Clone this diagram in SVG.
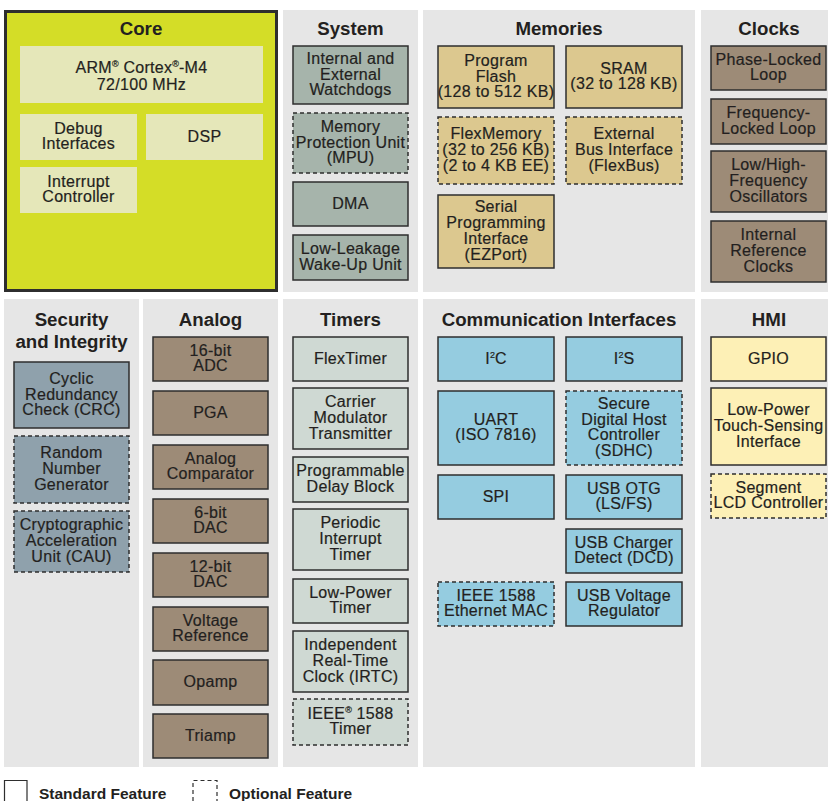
<svg xmlns="http://www.w3.org/2000/svg" width="828" height="801" viewBox="0 0 828 801">
<style>
text{font-family:"Liberation Sans",Arial,sans-serif;fill:#231f20;text-anchor:middle}
.t{font-size:16px;letter-spacing:0.3px;stroke:#231f20;stroke-width:0.2}
.h{font-size:18.7px;font-weight:bold}
.lg{font-size:15.5px;font-weight:bold;text-anchor:start}
.sup{font-size:9px;letter-spacing:0}
.panel{fill:#e6e6e6}
.b{stroke:#2e2e2e;stroke-width:1.5}
.d{stroke-dasharray:4 3}
.sys{fill:#a6b4ab}
.mem{fill:#dcc88f}
.brn{fill:#9d8b77}
.sec{fill:#8fa1ac}
.tim{fill:#cfd9d3}
.com{fill:#95cce0}
.hmi{fill:#fdf0b6}
.ci{fill:#e5e7b9}
</style>
<rect width="828" height="801" fill="#ffffff"/>
<g id="panels">
<rect class="panel" x="283" y="10" width="135" height="282"/>
<rect class="panel" x="423" y="10" width="272" height="282"/>
<rect class="panel" x="701" y="10" width="127" height="282"/>
<rect class="panel" x="4" y="299" width="135" height="468"/>
<rect class="panel" x="143" y="299" width="135" height="468"/>
<rect class="panel" x="283" y="299" width="135" height="468"/>
<rect class="panel" x="423" y="299" width="272" height="468"/>
<rect class="panel" x="701" y="299" width="127" height="468"/>
</g>
<g id="core">
<rect x="5.5" y="11.5" width="271" height="279" fill="#d4dd27" stroke="#2e2e2e" stroke-width="3"/>
<text class="h" x="141" y="35">Core</text>
</g>
<g id="n-arm"><rect class="ci" x="20" y="46" width="243" height="57"/><text class="t" x="141.5" y="73">ARM<tspan class="sup" dy="-6">®</tspan><tspan dy="6"> Cortex</tspan><tspan class="sup" dy="-6">®</tspan><tspan dy="6">-M4</tspan></text><text class="t" x="141.5" y="89.5">72/100 MHz</text></g>
<g id="n-debug"><rect class="ci" x="20" y="114" width="117" height="46"/><text class="t" x="78.5" y="133.6">Debug</text><text class="t" x="78.5" y="149.4">Interfaces</text></g>
<g id="n-dsp"><rect class="ci" x="146" y="114" width="117" height="46"/><text class="t" x="204.5" y="141.5">DSP</text></g>
<g id="n-interrupt"><rect class="ci" x="20" y="167" width="117" height="46"/><text class="t" x="78.5" y="186.6">Interrupt</text><text class="t" x="78.5" y="202.4">Controller</text></g>

<g id="system"><text class="h" x="350.5" y="35">System</text></g>
<g id="n-wdog"><rect class="sys b" x="293" y="46" width="115" height="58"/><text class="t" x="350.5" y="63.7">Internal and</text><text class="t" x="350.5" y="79.5">External</text><text class="t" x="350.5" y="95.3">Watchdogs</text></g>
<g id="n-mpu"><rect class="sys b d" x="293" y="113" width="115" height="60"/><text class="t" x="350.5" y="131.7">Memory</text><text class="t" x="350.5" y="147.5">Protection Unit</text><text class="t" x="350.5" y="163.3">(MPU)</text></g>
<g id="n-dma"><rect class="sys b" x="293" y="182" width="115" height="44"/><text class="t" x="350.5" y="208.5">DMA</text></g>
<g id="n-llwu"><rect class="sys b" x="293" y="235" width="115" height="45"/><text class="t" x="350.5" y="254.1">Low-Leakage</text><text class="t" x="350.5" y="269.9">Wake-Up Unit</text></g>

<g id="memories"><text class="h" x="559" y="35">Memories</text></g>
<g id="n-flash"><rect class="mem b" x="438" y="46" width="116" height="62"/><text class="t" x="496" y="65.7">Program</text><text class="t" x="496" y="81.5">Flash</text><text class="t" x="496" y="97.3">(128 to 512 KB)</text></g>
<g id="n-sram"><rect class="mem b" x="566" y="46" width="116" height="62"/><text class="t" x="624" y="73.6">SRAM</text><text class="t" x="624" y="89.4">(32 to 128 KB)</text></g>
<g id="n-flexmem"><rect class="mem b d" x="438" y="117" width="116" height="67"/><text class="t" x="496" y="139.2">FlexMemory</text><text class="t" x="496" y="155">(32 to 256 KB)</text><text class="t" x="496" y="170.8">(2 to 4 KB EE)</text></g>
<g id="n-flexbus"><rect class="mem b d" x="566" y="117" width="116" height="67"/><text class="t" x="624" y="139.2">External</text><text class="t" x="624" y="155">Bus Interface</text><text class="t" x="624" y="170.8">(FlexBus)</text></g>
<g id="n-ezport"><rect class="mem b" x="438" y="195" width="116" height="73"/><text class="t" x="496" y="212.3">Serial</text><text class="t" x="496" y="228.1">Programming</text><text class="t" x="496" y="243.9">Interface</text><text class="t" x="496" y="259.7">(EZPort)</text></g>

<g id="clocks"><text class="h" x="769" y="35">Clocks</text></g>
<g id="n-pll"><rect class="brn b" x="711" y="46" width="115" height="44"/><text class="t" x="768.5" y="64.6">Phase-Locked</text><text class="t" x="768.5" y="80.4">Loop</text></g>
<g id="n-fll"><rect class="brn b" x="711" y="99" width="115" height="45"/><text class="t" x="768.5" y="118.1">Frequency-</text><text class="t" x="768.5" y="133.9">Locked Loop</text></g>
<g id="n-osc"><rect class="brn b" x="711" y="151" width="115" height="61"/><text class="t" x="768.5" y="170.2">Low/High-</text><text class="t" x="768.5" y="186">Frequency</text><text class="t" x="768.5" y="201.8">Oscillators</text></g>
<g id="n-irc"><rect class="brn b" x="711" y="221" width="115" height="61"/><text class="t" x="768.5" y="240.2">Internal</text><text class="t" x="768.5" y="256">Reference</text><text class="t" x="768.5" y="271.8">Clocks</text></g>

<g id="security"><text class="h" x="71.5" y="326">Security</text><text class="h" x="71.5" y="348">and Integrity</text></g>
<g id="n-crc"><rect class="sec b" x="14" y="362" width="115" height="66"/><text class="t" x="71.5" y="383.7">Cyclic</text><text class="t" x="71.5" y="399.5">Redundancy</text><text class="t" x="71.5" y="415.3">Check (CRC)</text></g>
<g id="n-rng"><rect class="sec b d" x="14" y="436" width="115" height="67"/><text class="t" x="71.5" y="458.2">Random</text><text class="t" x="71.5" y="474">Number</text><text class="t" x="71.5" y="489.8">Generator</text></g>
<g id="n-cau"><rect class="sec b d" x="14" y="511" width="115" height="61"/><text class="t" x="71.5" y="530.2">Cryptographic</text><text class="t" x="71.5" y="546">Acceleration</text><text class="t" x="71.5" y="561.8">Unit (CAU)</text></g>

<g id="analog"><text class="h" x="210.5" y="326">Analog</text></g>
<g id="n-adc"><rect class="brn b" x="153" y="337" width="115" height="44"/><text class="t" x="210.5" y="355.6">16-bit</text><text class="t" x="210.5" y="371.4">ADC</text></g>
<g id="n-pga"><rect class="brn b" x="153" y="391" width="115" height="44"/><text class="t" x="210.5" y="417.5">PGA</text></g>
<g id="n-cmp"><rect class="brn b" x="153" y="445" width="115" height="44"/><text class="t" x="210.5" y="463.6">Analog</text><text class="t" x="210.5" y="479.4">Comparator</text></g>
<g id="n-dac6"><rect class="brn b" x="153" y="499" width="115" height="44"/><text class="t" x="210.5" y="517.6">6-bit</text><text class="t" x="210.5" y="533.4">DAC</text></g>
<g id="n-dac12"><rect class="brn b" x="153" y="553" width="115" height="44"/><text class="t" x="210.5" y="571.6">12-bit</text><text class="t" x="210.5" y="587.4">DAC</text></g>
<g id="n-vref"><rect class="brn b" x="153" y="607" width="115" height="44"/><text class="t" x="210.5" y="625.6">Voltage</text><text class="t" x="210.5" y="641.4">Reference</text></g>
<g id="n-opamp"><rect class="brn b" x="153" y="660" width="115" height="45"/><text class="t" x="210.5" y="687">Opamp</text></g>
<g id="n-triamp"><rect class="brn b" x="153" y="714" width="115" height="44"/><text class="t" x="210.5" y="740.5">Triamp</text></g>

<g id="timers"><text class="h" x="350.5" y="326">Timers</text></g>
<g id="n-ftm"><rect class="tim b" x="293" y="337" width="115" height="44"/><text class="t" x="350.5" y="363.5">FlexTimer</text></g>
<g id="n-cmt"><rect class="tim b" x="293" y="388" width="115" height="61"/><text class="t" x="350.5" y="407.2">Carrier</text><text class="t" x="350.5" y="423">Modulator</text><text class="t" x="350.5" y="438.8">Transmitter</text></g>
<g id="n-pdb"><rect class="tim b" x="293" y="457" width="115" height="45"/><text class="t" x="350.5" y="476.1">Programmable</text><text class="t" x="350.5" y="491.9">Delay Block</text></g>
<g id="n-pit"><rect class="tim b" x="293" y="509" width="115" height="61"/><text class="t" x="350.5" y="528.2">Periodic</text><text class="t" x="350.5" y="544">Interrupt</text><text class="t" x="350.5" y="559.8">Timer</text></g>
<g id="n-lpt"><rect class="tim b" x="293" y="579" width="115" height="44"/><text class="t" x="350.5" y="597.6">Low-Power</text><text class="t" x="350.5" y="613.4">Timer</text></g>
<g id="n-irtc"><rect class="tim b" x="293" y="631" width="115" height="61"/><text class="t" x="350.5" y="650.2">Independent</text><text class="t" x="350.5" y="666">Real-Time</text><text class="t" x="350.5" y="681.8">Clock (IRTC)</text></g>
<g id="n-1588t"><rect class="tim b d" x="293" y="699" width="115" height="46"/><text class="t" x="350.5" y="718.6">IEEE<tspan class="sup" dy="-6">®</tspan><tspan dy="6"> 1588</tspan></text><text class="t" x="350.5" y="734.4">Timer</text></g>

<g id="comm"><text class="h" x="559" y="326">Communication Interfaces</text></g>
<g id="n-i2c"><rect class="com b" x="438" y="337" width="116" height="44"/><text class="t" x="496" y="363.5">I<tspan class="sup" dy="-6">2</tspan><tspan dy="6">C</tspan></text></g>
<g id="n-i2s"><rect class="com b" x="566" y="337" width="116" height="44"/><text class="t" x="624" y="363.5">I<tspan class="sup" dy="-6">2</tspan><tspan dy="6">S</tspan></text></g>
<g id="n-uart"><rect class="com b" x="438" y="391" width="116" height="74"/><text class="t" x="496" y="424.6">UART</text><text class="t" x="496" y="440.4">(ISO 7816)</text></g>
<g id="n-sdhc"><rect class="com b d" x="566" y="391" width="116" height="74"/><text class="t" x="624" y="408.8">Secure</text><text class="t" x="624" y="424.6">Digital Host</text><text class="t" x="624" y="440.4">Controller</text><text class="t" x="624" y="456.2">(SDHC)</text></g>
<g id="n-spi"><rect class="com b" x="438" y="475" width="116" height="44"/><text class="t" x="496" y="501.5">SPI</text></g>
<g id="n-usbotg"><rect class="com b" x="566" y="475" width="116" height="44"/><text class="t" x="624" y="493.6">USB OTG</text><text class="t" x="624" y="509.4">(LS/FS)</text></g>
<g id="n-dcd"><rect class="com b" x="566" y="529" width="116" height="44"/><text class="t" x="624" y="547.6">USB Charger</text><text class="t" x="624" y="563.4">Detect (DCD)</text></g>
<g id="n-enet"><rect class="com b d" x="438" y="582" width="116" height="44"/><text class="t" x="496" y="600.6">IEEE 1588</text><text class="t" x="496" y="616.4">Ethernet MAC</text></g>
<g id="n-usbvreg"><rect class="com b" x="566" y="582" width="116" height="44"/><text class="t" x="624" y="600.6">USB Voltage</text><text class="t" x="624" y="616.4">Regulator</text></g>

<g id="hmi"><text class="h" x="769" y="326">HMI</text></g>
<g id="n-gpio"><rect class="hmi b" x="711" y="337" width="115" height="44"/><text class="t" x="768.5" y="363.5">GPIO</text></g>
<g id="n-tsi"><rect class="hmi b" x="711" y="388" width="115" height="77"/><text class="t" x="768.5" y="415.2">Low-Power</text><text class="t" x="768.5" y="431">Touch-Sensing</text><text class="t" x="768.5" y="446.8">Interface</text></g>
<g id="n-lcd"><rect class="hmi b d" x="711" y="474" width="115" height="44"/><text class="t" x="768.5" y="492.6">Segment</text><text class="t" x="768.5" y="508.4">LCD Controller</text></g>

<g id="connectors"></g>

<g id="legend">
<path d="M4.5,801 V780.5 H27 V801" fill="none" stroke="#2e2e2e" stroke-width="1.2"/>
<text class="lg" x="39" y="799">Standard Feature</text>
<path d="M193,801 V780.5 H217 V801" fill="none" stroke="#2e2e2e" stroke-width="1.2" stroke-dasharray="4 3"/>
<text class="lg" x="229" y="799">Optional Feature</text>
</g>
</svg>
